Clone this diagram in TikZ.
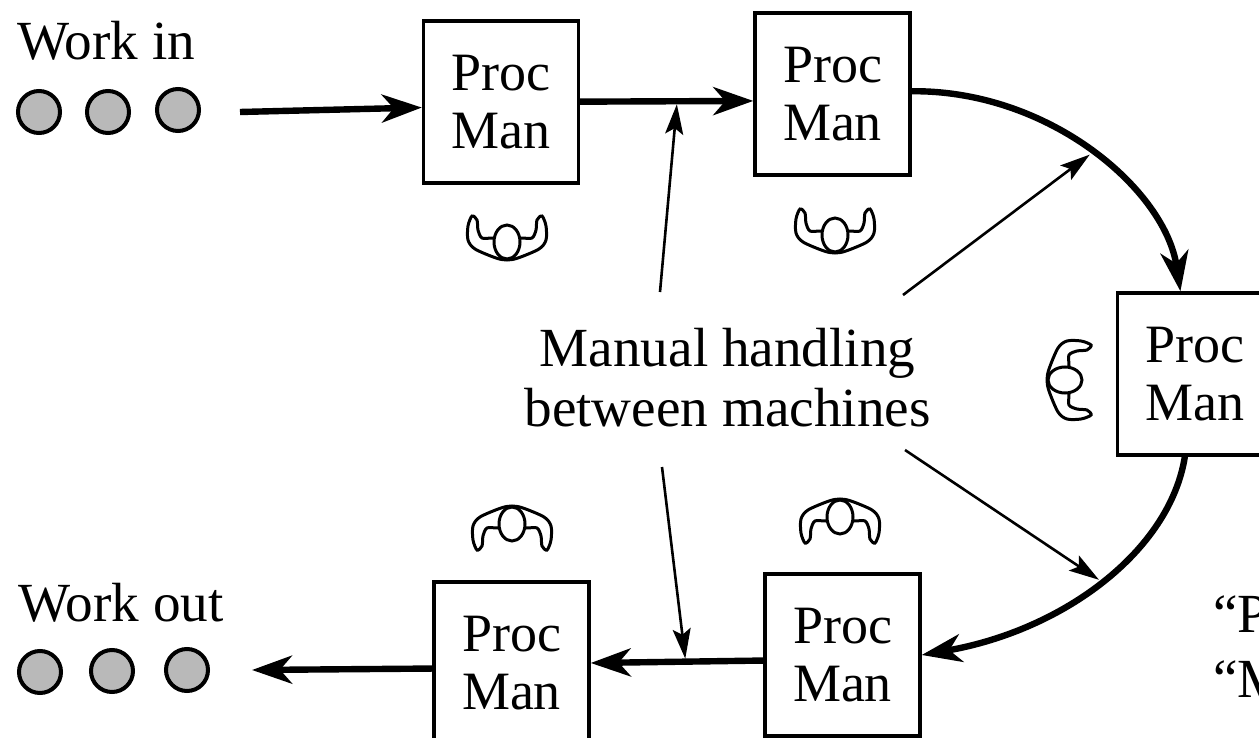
\documentclass[tikz,border=0pt]{standalone}
\usepackage{fontspec}
\setmainfont{Liberation Serif}
\usetikzlibrary{arrows.meta}
\tikzstyle{procbox} = [rectangle, draw, line width=1.7pt, align=center, inner sep=0pt, minimum width=77.5pt, minimum height=81pt, font=\fontsize{27}{29}\selectfont]
\tikzstyle{part} = [circle, draw, line width=2pt, fill=gray!55, minimum size=21pt, inner sep=0pt]
\tikzstyle{caption} = [align=center, inner sep=0pt, font=\fontsize{27.6}{30}\selectfont]
\tikzstyle{connector} = [line width=3.2pt, -{Stealth[length=20pt,width=14pt,inset=6pt]}]
\tikzstyle{pointer} = [line width=1.3pt, shorten >=1.5pt, -{Stealth[length=15pt,width=9pt,inset=3pt]}]
\tikzset{
    operator/.pic={
        \draw [line width=1.5pt, fill=white] plot [smooth cycle, tension=0.5] coordinates {(-14,-4) (-25,-4) (-29,-12) (-30,-22) (-35,-26) (-39,-16) (-39,-2) (-32,7) (-11,16) (0,18) (11,16) (32,7) (39,-2) (39,-16) (35,-26) (30,-22) (29,-12) (25,-4) (14,-4)};
        \draw [line width=1.5pt, fill=white] (0,0) ellipse (13 and 17);
    }
}

\begin{document}
\begin{tikzpicture}[x=0.5pt, y=-0.5pt, node distance=170pt]
    \useasboundingbox (0,0) rectangle (1259,738);
    \clip (0,0) rectangle (1259,738);

    \node (m1) [procbox] at (501,102) {Proc\\Man};
    \node (m2) [procbox, right of=m1, node distance=165.75pt, yshift=4pt] {Proc\\Man};
    \node (m3) [procbox, right of=m2, node distance=181.25pt, yshift=-140pt] {Proc\\Man};
    \node (m4) [procbox, below of=m2, node distance=280.5pt, xshift=5pt] {Proc\\Man};
    \node (m5) [procbox, left of=m4, node distance=165.5pt, yshift=-4pt] {Proc\\Man};

    \node (workin) [caption] at (106,41) {Work in};
    \node (workout) [caption] at (121,603) {Work out};
    \node (handling) [caption] at (727.5,378) {Manual handling\\between machines};
    \node (pquote) [caption, anchor=west] at (1213,614) {“P};
    \node (mquote) [caption, anchor=west] at (1213,679) {“M};

    \node (in1) [part] at (39,112) {};
    \node (in2) [part] at (108,112) {};
    \node (in3) [part] at (178,110) {};
    \node (out1) [part] at (40,672) {};
    \node (out2) [part] at (112,671) {};
    \node (out3) [part] at (187,670) {};

    \pic at (507,242) {operator};
    \pic at (835,235) {operator};
    \pic [rotate=-90] at (1065,380) {operator};
    \pic [rotate=180] at (840,517) {operator};
    \pic [rotate=180] at (512,524) {operator};

    \coordinate (start) at (240,112);
    \coordinate (end) at (252,670);
    \coordinate (p1) at (660,292);
    \coordinate (p2) at (903,295);
    \coordinate (p3) at (905,450);
    \coordinate (p4) at (662,467);

    \draw [connector] (start) -- (m1.184);
    \draw [connector] (m1) -- coordinate [pos=0.56] (h1) (m2.185);
    \draw [connector] (m2.2) .. controls (1050,90) and (1165,190) .. coordinate [pos=0.5] (h2) (m3.100);
    \draw [connector] (m3.263) .. controls (1170,550) and (1065,630) .. coordinate [pos=0.5] (h3) (m4.east);
    \draw [connector] (m4.184) -- coordinate [pos=0.45] (h4) (m5.east);
    \draw [connector] (m5.184) -- (end);

    \draw [pointer] (p1) -- (h1);
    \draw [pointer] (p2) -- (h2);
    \draw [pointer] (p3) -- (h3);
    \draw [pointer] (p4) -- (h4);
\end{tikzpicture}
\end{document}
